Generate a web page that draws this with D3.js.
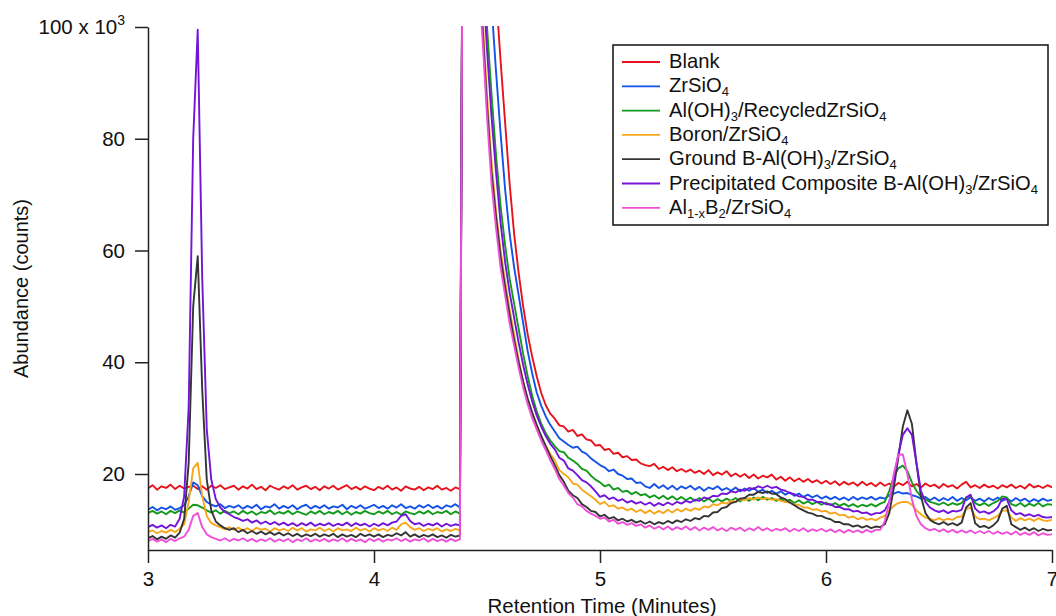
<!DOCTYPE html>
<html>
<head>
<meta charset="utf-8">
<script src="https://cdn.jsdelivr.net/npm/d3@7"></script>
<style>
  body { margin: 0; background: #fff; }
  text { font-family: "Liberation Sans", Arial, sans-serif; fill: #111; }
</style>
</head>
<body>
<svg width="1056" height="616"></svg>
<script>
// retention time grid, minutes (3.00 ... 7.00, every 0.02)
const times = d3.range(0, 201).map(i => +(3 + i * 0.02).toFixed(2));

// abundance (x 10^3 counts), one row = 10 samples
const blank = [
  17.4, 18.0, 17.2, 17.8, 17.5, 18.1, 17.3, 17.9, 17.4, 17.7,
  17.9, 17.3, 17.8, 17.2, 17.9, 17.5, 18.0, 17.3, 17.6, 17.9,
  17.2, 17.8, 17.4, 18.1, 17.3, 17.7, 17.1, 17.9, 17.5, 17.2,
  17.8, 17.4, 18.0, 17.2, 17.6, 17.9, 17.3, 17.7, 17.1, 17.8,
  17.4, 17.9, 17.2, 17.6, 18.0, 17.3, 17.7, 17.2, 17.8, 17.4,
  17.1, 17.7, 17.3, 17.9, 17.2, 17.6, 17.0, 17.8, 17.4, 17.2,
  17.7, 17.1, 17.6, 17.3, 17.9, 17.2, 17.5, 17.0, 17.6, 17.3,
  200, 220, 200, 180, 160, 140, 122, 106, 94, 83,
  72, 63, 56, 50, 45, 41, 37.5, 34.5, 32.3, 30.8,
  29.9, 28.7, 28.5, 27.6, 27.9, 26.8, 27.1, 26.2, 26.0, 25.1,
  25.2, 24.3, 24.5, 23.6, 23.8, 23.0, 23.2, 22.5, 22.6, 21.9,
  21.6, 21.4, 21.8, 20.9, 21.3, 20.7, 21.2, 20.5, 20.9, 20.4,
  20.8, 20.2, 20.6, 20.0, 20.7, 19.8, 20.3, 19.9, 20.5, 19.6,
  20.1, 19.5, 20.0, 19.3, 19.9, 19.2, 19.7, 19.4, 19.9, 19.0,
  19.5, 18.8, 19.4, 18.7, 19.2, 18.6, 19.1, 18.5, 18.9, 18.3,
  18.8, 18.2, 18.7, 18.0, 18.6, 18.1, 18.5, 17.9, 18.6, 18.0,
  18.4, 17.8, 18.5, 17.9, 18.3, 17.7, 18.4, 18.0, 18.6, 17.8,
  18.2, 17.6, 18.3, 17.8, 18.1, 17.5, 18.2, 17.7, 18.0, 17.4,
  18.1, 18.6, 17.6, 18.0, 17.5, 18.1, 17.6, 17.9, 17.4, 18.0,
  17.6, 18.1, 17.5, 17.9, 17.4, 18.2, 17.6, 17.9, 17.5, 18.0,
  17.6
];

const zrsio4 = [
  13.6, 14.1, 13.5, 14.0, 13.7, 14.2, 13.6, 13.9, 14.4, 16.0,
  18.5, 18.0, 16.0, 15.0, 14.5, 14.2, 14.6, 13.9, 14.3, 14.0,
  14.4, 13.8, 14.3, 13.9, 14.5, 13.7, 14.2, 14.0, 14.6, 13.8,
  14.3, 13.9, 14.4, 13.7, 14.2, 14.5, 13.8, 14.3, 13.9, 14.4,
  13.8, 14.2, 14.0, 14.5, 13.7, 14.3, 13.9, 14.4, 13.8, 14.1,
  14.5, 13.9, 14.3, 13.8, 14.4, 14.0, 14.6, 13.9, 14.2, 13.8,
  14.4, 14.0, 14.5, 13.9, 14.3, 13.8, 14.4, 14.1, 14.6, 14.0,
  200, 220, 200, 150, 135, 118, 104, 92, 81, 71,
  63, 57, 52, 47, 42, 38, 34.6, 32.2, 30.3, 28.8,
  27.6, 26.4, 25.8, 25.2, 24.7, 24.9, 24.0, 23.6, 22.8, 22.2,
  21.6, 21.2, 20.5, 20.8, 20.0, 19.7, 19.1, 19.2, 18.4, 18.5,
  17.8, 17.5, 18.2, 17.5, 18.0, 17.3, 17.9, 17.2, 17.8, 17.4,
  17.9, 17.2, 17.7, 17.0, 17.6, 17.3, 17.8, 17.1, 17.5, 17.0,
  17.6, 16.9, 17.4, 17.0, 17.5, 16.8, 17.2, 16.6, 17.0, 16.5,
  16.9, 16.3, 16.7, 16.1, 16.5, 15.9, 16.3, 15.8, 16.2, 15.6,
  16.0, 15.5, 15.9, 15.4, 15.8, 15.3, 15.9, 15.4, 15.8, 15.5,
  15.9, 15.4, 15.8, 15.6, 16.2, 16.5, 16.8, 16.5, 16.6, 16.2,
  16.0, 15.6, 15.9, 15.3, 15.8, 15.2, 15.7, 15.3, 15.9, 15.2,
  15.7, 15.3, 15.8, 15.2, 15.6, 15.1, 15.7, 15.3, 15.8, 15.2,
  15.6, 15.1, 15.7, 15.2, 15.6, 15.0, 15.5, 15.1, 15.6, 15.2,
  15.4
];

const alohRecycled = [
  13.0, 13.4, 12.9, 13.3, 12.8, 13.4, 13.0, 13.5, 13.1, 13.8,
  14.5, 14.4, 14.0, 13.5, 13.1, 13.5, 12.9, 13.4, 13.0, 13.3,
  12.8, 13.4, 12.9, 13.3, 12.7, 13.2, 13.0, 13.5, 12.8, 13.2,
  12.9, 13.4, 12.8, 13.3, 13.0, 12.7, 13.3, 12.9, 13.4, 12.8,
  13.2, 12.9, 13.4, 12.8, 13.3, 12.7, 13.2, 12.9, 13.4, 13.0,
  12.8, 13.3, 12.9, 13.4, 12.8, 13.2, 12.7, 13.3, 13.0, 12.8,
  13.3, 12.9, 13.4, 12.8, 13.2, 13.0, 13.4, 12.8, 13.3, 12.9,
  200, 220, 200, 128, 114, 100, 88, 77, 68, 61,
  55, 50.5, 46, 41.5, 37.5, 34, 31.2, 29.0, 27.3, 26.0,
  25.0, 24.1, 23.9, 22.9, 22.4, 21.8, 20.9, 20.6, 19.7, 19.0,
  18.5, 17.8, 18.1, 17.2, 17.5, 16.8, 17.0, 16.4, 16.8, 16.2,
  16.4, 15.8, 16.2, 15.6, 16.1, 15.5, 16.0, 15.4, 15.9, 15.3,
  15.8, 15.2, 15.7, 15.1, 15.6, 15.0, 15.5, 15.1, 15.6, 15.2,
  15.7, 15.1, 15.7, 15.2, 15.8, 15.3, 15.9, 15.4, 15.7, 15.2,
  15.6, 15.0, 15.4, 14.8, 15.3, 14.7, 15.1, 14.6, 15.0, 14.5,
  14.9, 14.4, 14.8, 14.3, 14.7, 14.2, 14.6, 14.1, 14.5, 14.2,
  14.6, 14.2, 14.7, 15.0, 17.0, 19.5, 21.0, 21.5, 20.5, 18.5,
  17.0, 16.0, 15.5, 15.0, 14.8, 14.5, 14.9, 14.4, 14.8, 14.5,
  14.8, 15.8, 16.0, 14.8, 14.4, 14.8, 14.3, 14.8, 15.2, 16.0,
  15.8, 14.6, 14.3, 14.8, 14.2, 14.7, 14.3, 14.8, 14.2, 14.6,
  14.5
];

const boron = [
  9.6, 9.9, 9.4, 9.8, 9.5, 10.0, 9.6, 10.2, 11.0, 15.0,
  21.0, 22.0, 16.0, 12.5, 11.2, 10.8, 10.5, 10.1, 10.5, 10.0,
  10.4, 9.9, 10.3, 9.8, 10.4, 10.0, 10.2, 9.7, 10.3, 9.9,
  10.2, 9.8, 10.4, 9.9, 10.3, 9.7, 10.1, 9.9, 10.4, 9.8,
  10.2, 9.7, 10.3, 9.9, 10.1, 9.8, 10.4, 9.9, 10.2, 9.7,
  10.3, 9.9, 10.2, 9.8, 10.4, 10.0, 11.0, 11.3, 10.5, 10.0,
  10.3, 9.8, 10.2, 9.9, 10.3, 9.7, 10.1, 9.8, 10.2, 9.9,
  200, 220, 200, 115, 102, 88, 76, 67, 60, 54.5,
  49.5, 45, 40.5, 36.5, 33, 30.3, 28.2, 26.5, 25, 23.6,
  22.4, 20.7, 20.0, 19.4, 18.3, 18.1, 17.2, 16.6, 16.0, 15.4,
  14.6, 15.0, 14.2, 14.4, 13.8, 14.0, 13.5, 13.8, 13.2, 13.6,
  13.0, 13.5, 12.9, 13.4, 13.0, 13.6, 13.1, 13.7, 13.3, 13.8,
  13.4, 13.9, 13.6, 14.2, 14.0, 14.6, 14.4, 14.9, 14.7, 15.2,
  15.0, 15.5, 15.3, 15.7, 15.4, 15.8, 15.5, 15.7, 15.4, 15.5,
  15.2, 15.0, 14.9, 14.5, 14.5, 14.0, 14.0, 13.6, 13.7, 13.3,
  13.4, 12.9, 13.1, 12.6, 12.7, 12.2, 12.4, 11.9, 12.2, 11.8,
  12.0, 11.7, 12.2, 12.5, 13.5, 14.3, 14.8, 15.0, 15.0, 14.5,
  13.5, 12.8, 12.2, 12.0, 11.7, 12.1, 11.7, 12.0, 11.8, 12.3,
  12.4, 13.7, 14.0, 12.4, 11.9, 12.0, 11.7, 12.1, 12.5, 13.4,
  13.5, 12.2, 11.6, 12.1, 11.7, 12.0, 11.6, 12.1, 11.7, 11.6,
  11.8
];

const groundB = [
  8.5, 8.9, 8.3, 8.8, 8.4, 9.0, 8.6, 9.5, 12.0, 22.0,
  50.0, 59.0, 35.0, 19.0, 13.5, 11.5, 10.8, 10.3, 10.0, 10.3,
  9.6, 10.0, 9.4, 9.8, 9.3, 9.7, 9.2, 9.6, 9.1, 9.5,
  9.0, 9.4, 8.9, 9.3, 8.8, 9.2, 8.9, 9.3, 8.8, 9.2,
  8.9, 9.3, 8.7, 9.2, 8.8, 9.1, 8.7, 9.3, 8.9, 9.2,
  8.8, 9.2, 8.7, 9.1, 8.9, 9.4, 9.0, 9.6, 8.8, 9.2,
  8.7, 9.1, 8.8, 9.2, 8.7, 9.0, 8.6, 9.1, 8.8, 9.0,
  200, 220, 200, 112, 100, 86, 74, 66, 59, 53.5,
  48.5, 44, 40, 36.5, 33.5, 31, 28.8, 26.8, 25, 23.2,
  21.6, 19.8, 18.6, 17.0, 16.2, 15.7, 14.6, 14.1, 13.4, 13.2,
  12.4, 12.7, 12.0, 12.3, 11.7, 12.0, 11.5, 11.8, 11.3, 11.6,
  11.1, 11.5, 11.0, 11.4, 11.1, 11.6, 11.2, 11.7, 11.4, 11.9,
  11.6, 12.1, 11.9, 12.5, 12.4, 13.1, 13.2, 13.9, 14.1, 14.8,
  15.0, 15.6, 15.7, 16.3, 16.3, 16.8, 16.6, 16.9, 16.5, 16.4,
  15.8, 15.5, 14.9, 14.4, 13.9, 13.5, 13.1, 12.9, 12.5, 12.5,
  12.1, 11.9, 11.4, 11.4, 11.0, 11.0, 10.6, 10.8, 10.4, 10.7,
  10.3, 10.6, 10.5, 11.0, 13.0, 17.5, 23.0, 28.5, 31.4, 29.0,
  22.0, 16.0, 13.0, 11.8, 11.3, 11.0, 11.4, 10.9, 11.2, 10.8,
  11.3, 14.0, 14.8, 11.2, 10.5, 10.7, 10.3, 10.8, 11.6, 13.8,
  14.3, 11.0, 10.5, 10.0, 10.4, 9.9, 10.3, 9.8, 10.2, 9.9,
  10.0
];

const precipitated = [
  10.5, 10.9, 10.4, 10.8, 10.3, 10.9, 10.6, 12.0, 16.0, 32.0,
  80.0, 99.5, 55.0, 28.0, 19.0, 15.5, 14.0, 13.2, 12.8, 12.3,
  12.0, 11.6, 11.9, 11.3, 11.7, 11.1, 11.5, 11.0, 11.4, 10.9,
  11.3, 10.8, 11.2, 10.7, 11.2, 10.8, 11.3, 10.7, 11.1, 10.8,
  11.2, 10.7, 11.1, 10.8, 11.3, 10.7, 11.2, 10.8, 11.1, 10.6,
  11.1, 10.7, 11.2, 10.8, 11.3, 11.5, 12.5, 12.8, 11.6, 11.0,
  11.2, 10.7, 11.1, 10.8, 11.2, 10.6, 11.1, 10.7, 11.0, 10.8,
  200, 220, 200, 125, 110, 96, 84, 74, 65, 58,
  52.5, 48, 43.5, 39.5, 36, 33, 30.5, 28.5, 26.8, 25.4,
  24.4, 22.9, 22.4, 21.0, 20.6, 19.8, 18.9, 18.5, 17.8, 16.9,
  15.9, 16.2, 15.5, 15.8, 15.2, 15.5, 14.9, 15.2, 14.7, 15.0,
  14.5, 14.9, 14.3, 14.8, 14.4, 14.9, 14.5, 15.0, 14.7, 15.2,
  14.9, 15.4, 15.2, 15.8, 15.6, 16.1, 16.0, 16.5, 16.4, 16.9,
  16.7, 17.2, 17.0, 17.5, 17.3, 17.8, 17.5, 17.9, 17.5, 17.7,
  17.2, 17.0, 16.6, 16.4, 16.0, 15.9, 15.4, 15.4, 15.0, 15.0,
  14.6, 14.6, 14.1, 14.1, 13.7, 13.7, 13.3, 13.4, 13.0, 13.1,
  12.7, 13.0, 13.0, 13.5, 15.0, 19.0, 23.5, 27.0, 28.2, 27.0,
  22.0, 17.0, 15.0, 14.0, 13.5, 13.2, 13.5, 13.0, 13.4, 13.3,
  13.6, 15.8, 16.3, 13.8, 13.1, 13.3, 12.9, 13.3, 14.0, 15.6,
  15.5, 13.5, 12.8, 13.0, 12.5, 12.8, 12.4, 12.7, 12.3, 12.2,
  12.3
];

const al1xB2 = [
  8.0, 8.4, 7.9, 8.3, 7.8, 8.4, 8.0, 8.5, 8.8, 10.0,
  12.5, 13.0, 10.5, 9.2, 8.7, 8.4, 8.1, 8.5, 8.0, 8.4,
  8.1, 8.5, 8.0, 8.4, 7.9, 8.3, 8.0, 8.5, 7.9, 8.3,
  8.0, 8.4, 7.8, 8.3, 8.0, 8.5, 7.9, 8.3, 8.0, 8.4,
  7.9, 8.3, 8.0, 8.5, 7.9, 8.4, 8.0, 8.3, 7.8, 8.4,
  8.0, 8.4, 7.9, 8.3, 8.1, 8.5, 8.0, 8.4, 7.9, 8.3,
  8.1, 8.5, 7.9, 8.4, 8.0, 8.3, 7.9, 8.4, 8.0, 8.3,
  200, 220, 200, 110, 98, 84, 72, 64, 57, 52,
  47, 43, 39, 35.5, 32.5, 30, 28, 26, 24.3, 22.5,
  20.9, 19.1, 17.9, 16.6, 15.8, 14.6, 14.2, 13.4, 12.9, 12.5,
  12.0, 12.2, 11.5, 11.8, 11.1, 11.4, 10.9, 11.2, 10.7, 11.0,
  10.4, 10.8, 10.2, 10.6, 10.1, 10.6, 10.0, 10.5, 10.1, 10.6,
  10.0, 10.5, 9.9, 10.4, 10.0, 10.5, 9.9, 10.3, 9.8, 10.4,
  10.0, 10.4, 9.8, 10.3, 9.9, 10.5, 9.9, 10.3, 9.8, 10.2,
  9.9, 10.3, 9.7, 10.2, 9.8, 10.3, 9.7, 10.1, 9.8, 10.2,
  9.7, 10.1, 9.6, 10.0, 9.5, 10.0, 9.6, 9.9, 9.5, 10.0,
  9.6, 10.0, 10.0, 11.5, 15.0, 20.0, 23.5, 23.5, 20.0, 15.5,
  12.5, 11.0, 10.3, 9.9, 10.2, 9.7, 10.1, 9.6, 10.0, 9.5,
  9.9, 9.5, 9.9, 9.4, 9.8, 9.4, 9.8, 9.3, 9.7, 9.3,
  9.6, 9.2, 9.7, 9.1, 9.5, 9.1, 9.6, 9.0, 9.4, 9.1,
  9.2
];

const seriesNames = [
  "Blank",
  "ZrSiO_{4}",
  "Al(OH)_{3}/RecycledZrSiO_{4}",
  "Boron/ZrSiO_{4}",
  "Ground B-Al(OH)_{3}/ZrSiO_{4}",
  "Precipitated Composite B-Al(OH)_{3}/ZrSiO_{4}",
  "Al_{1-x}B_{2}/ZrSiO_{4}"
];
const seriesColors = ["#e8121a", "#1452e8", "#139a1c", "#f8a71c", "#353535", "#7414d8", "#ef50d8"];
const seriesValues = [blank, zrsio4, alohRecycled, boron, groundB, precipitated, al1xB2];

const xTicks = [3, 4, 5, 6, 7];
const yTicks = [20, 40, 60, 80, 100];

const FONT = 20.5;
const svg = d3.select("svg");

const x = d3.scaleLinear().domain([3, 7]).range([148, 1052]);
const y = d3.scaleLinear().domain([6.4, 100]).range([550, 27]);

svg.append("defs").append("clipPath").attr("id", "plot")
  .append("rect")
  .attr("x", x(3)).attr("y", y(100) - 1)
  .attr("width", x(7) - x(3)).attr("height", y(6.4) - y(100) + 1);

const series = seriesNames.map((name, i) => ({
  name,
  color: seriesColors[i],
  points: times.map((t, j) => [t, seriesValues[i][j]])
}));

const line = d3.line().x(d => x(d[0])).y(d => y(d[1]));

svg.append("g").attr("clip-path", "url(#plot)")
  .selectAll("path")
  .data(series)
  .join("path")
  .attr("fill", "none")
  .attr("stroke", d => d.color)
  .attr("stroke-width", 1.9)
  .attr("stroke-linejoin", "round")
  .attr("d", d => line(d.points));

// axes
const xAxis = svg.append("g")
  .attr("transform", `translate(0,${y(6.4)})`)
  .call(d3.axisBottom(x).tickValues(xTicks).tickFormat(d3.format("d"))
    .tickSize(13).tickSizeOuter(0).tickPadding(8));

const yAxis = svg.append("g")
  .attr("transform", `translate(${x(3)},0)`)
  .call(d3.axisLeft(y).tickValues(yTicks).tickSize(13).tickSizeOuter(0).tickPadding(10));

[xAxis, yAxis].forEach(g => {
  g.selectAll("path, line").attr("stroke", "#222").attr("stroke-width", 1.5);
  g.selectAll("text").attr("font-size", FONT).attr("fill", "#111")
    .attr("font-family", '"Liberation Sans", Arial, sans-serif');
});

const topLabel = yAxis.selectAll(".tick text").filter(d => d === 100);
topLabel.text("100 x 10");
topLabel.append("tspan").attr("dy", -9).attr("font-size", 14).text("3");

svg.append("text")
  .attr("x", (x(3) + x(7)) / 2 + 2)
  .attr("y", 613)
  .attr("text-anchor", "middle")
  .attr("font-size", FONT)
  .text("Retention Time (Minutes)");

svg.append("text")
  .attr("transform", `translate(28,${(y(100) + y(6.4)) / 2}) rotate(-90)`)
  .attr("text-anchor", "middle")
  .attr("font-size", FONT - 0.5)
  .text("Abundance (counts)");

// legend
function richText(sel, label) {
  const parts = label.split(/(_\{[^}]*\})/).filter(p => p.length);
  let shifted = false;
  parts.forEach(p => {
    if (p.startsWith("_{")) {
      sel.append("tspan").attr("font-size", 13).attr("dy", shifted ? 0 : 4).text(p.slice(2, -1));
      shifted = true;
    } else {
      sel.append("tspan").attr("dy", shifted ? -4 : 0).text(p);
      shifted = false;
    }
  });
}

const legend = svg.append("g");
legend.append("rect")
  .attr("x", 613).attr("y", 45).attr("width", 435).attr("height", 180)
  .attr("fill", "#fff").attr("stroke", "#111").attr("stroke-width", 1.5);

const rows = legend.selectAll("g.row").data(series).join("g")
  .attr("class", "row")
  .attr("transform", (d, i) => `translate(0,${62 + i * 24.3})`);

rows.append("line")
  .attr("x1", 622).attr("x2", 660)
  .attr("stroke", d => d.color).attr("stroke-width", 1.8);

rows.append("text")
  .attr("x", 669).attr("y", 6)
  .attr("font-size", FONT - 0.3)
  .each(function(d) { richText(d3.select(this), d.name); });
</script>
</body>
</html>
